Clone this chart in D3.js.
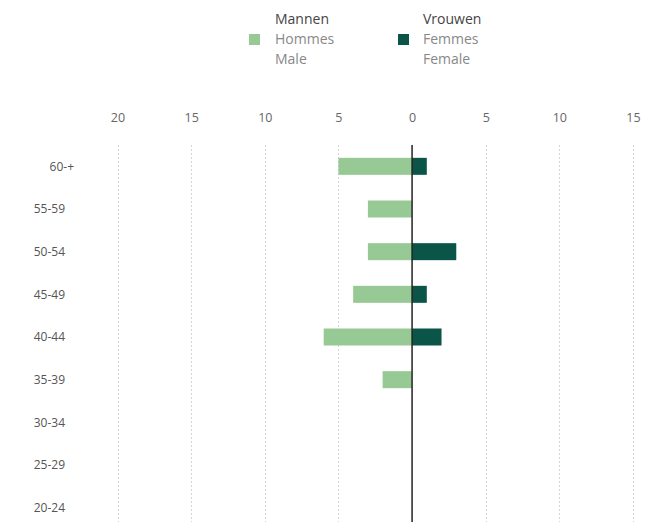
<!DOCTYPE html>
<html>
<head>
<meta charset="utf-8">
<script src="https://cdn.jsdelivr.net/npm/d3@7"></script>
<style>
  html, body { margin: 0; padding: 0; background: #fff; }
  svg { display: block; font-family: "Open Sans", "Noto Sans", sans-serif; }
</style>
</head>
<body>
<svg id="chart" width="646" height="522"></svg>
<script>
const categories = ["60-+", "55-59", "50-54", "45-49", "40-44", "35-39", "30-34", "25-29", "20-24"];
const maleValues = [5, 3, 3, 4, 6, 2, 0, 0, 0];
const femaleValues = [1, 0, 3, 1, 2, 0, 0, 0, 0];
const tickValues = [-20, -15, -10, -5, 0, 5, 10, 15];
const legendItems = [
  { lines: ["Mannen", "Hommes", "Male"], color: "#96c994" },
  { lines: ["Vrouwen", "Femmes", "Female"], color: "#0b5448" }
];

(function () {
const svg = d3.select("#chart");
const W = 646, H = 522;
const plotTop = 145;

const x = d3.scaleLinear().domain([-20, 15]).range([117.5, 633]);
const y = d3.scalePoint().domain(categories).range([plotTop, plotTop + 384]).padding(0.5);
const barH = 17;

// gridlines
svg.append("g").selectAll("line")
  .data(tickValues.filter(v => v !== 0))
  .join("line")
  .attr("x1", d => Math.round(x(d)) + 0.5).attr("x2", d => Math.round(x(d)) + 0.5)
  .attr("y1", plotTop).attr("y2", H)
  .attr("stroke", "#d4d4d4").attr("stroke-width", 1)
  .attr("stroke-dasharray", "2,2");

// tick labels
const axis = d3.axisTop(x).tickValues(tickValues).tickFormat(d => Math.abs(d)).tickSize(0);
const ax = svg.append("g").attr("transform", "translate(0,125)").call(axis);
ax.select(".domain").remove();
ax.selectAll("text").attr("fill", "#666").attr("font-size", 12.5).attr("font-family", "Open Sans, sans-serif").attr("dy", 0);

// male bars
svg.append("g").selectAll("rect")
  .data(categories.map((c, i) => ({ c, v: maleValues[i] })).filter(d => d.v > 0))
  .join("rect")
  .attr("x", d => x(-d.v)).attr("width", d => x(0) - x(-d.v))
  .attr("y", d => y(d.c) - barH / 2).attr("height", barH)
  .attr("fill", legendItems[0].color);

// female bars
svg.append("g").selectAll("rect")
  .data(categories.map((c, i) => ({ c, v: femaleValues[i] })).filter(d => d.v > 0))
  .join("rect")
  .attr("x", x(0)).attr("width", d => x(d.v) - x(0))
  .attr("y", d => y(d.c) - barH / 2).attr("height", barH)
  .attr("fill", legendItems[1].color);

// zero line
svg.append("line")
  .attr("x1", x(0)).attr("x2", x(0))
  .attr("y1", plotTop).attr("y2", H)
  .attr("stroke", "#222").attr("stroke-width", 1.5);

// category labels
svg.append("g").selectAll("text")
  .data(categories)
  .join("text")
  .attr("x", d => d.includes("+") ? 74 : 65)
  .attr("y", d => y(d))
  .attr("dy", "0.35em")
  .attr("text-anchor", "end")
  .attr("fill", "#555")
  .attr("font-size", 12)
  .text(d => d);

// legend
const legendX = [249, 398];
legendItems.forEach((item, i) => {
  const g = svg.append("g").attr("transform", `translate(${legendX[i]},0)`);
  g.append("rect").attr("x", 0).attr("y", 34).attr("width", 11).attr("height", 11).attr("fill", item.color);
  item.lines.forEach((t, j) => {
    g.append("text")
      .attr("x", i === 0 ? 26 : 25)
      .attr("y", 24 + j * 20)
      .attr("font-size", 14)
      .attr("fill", j === 0 ? "#444" : "#888")
      .text(t);
  });
});
})();
</script>
</body>
</html>
